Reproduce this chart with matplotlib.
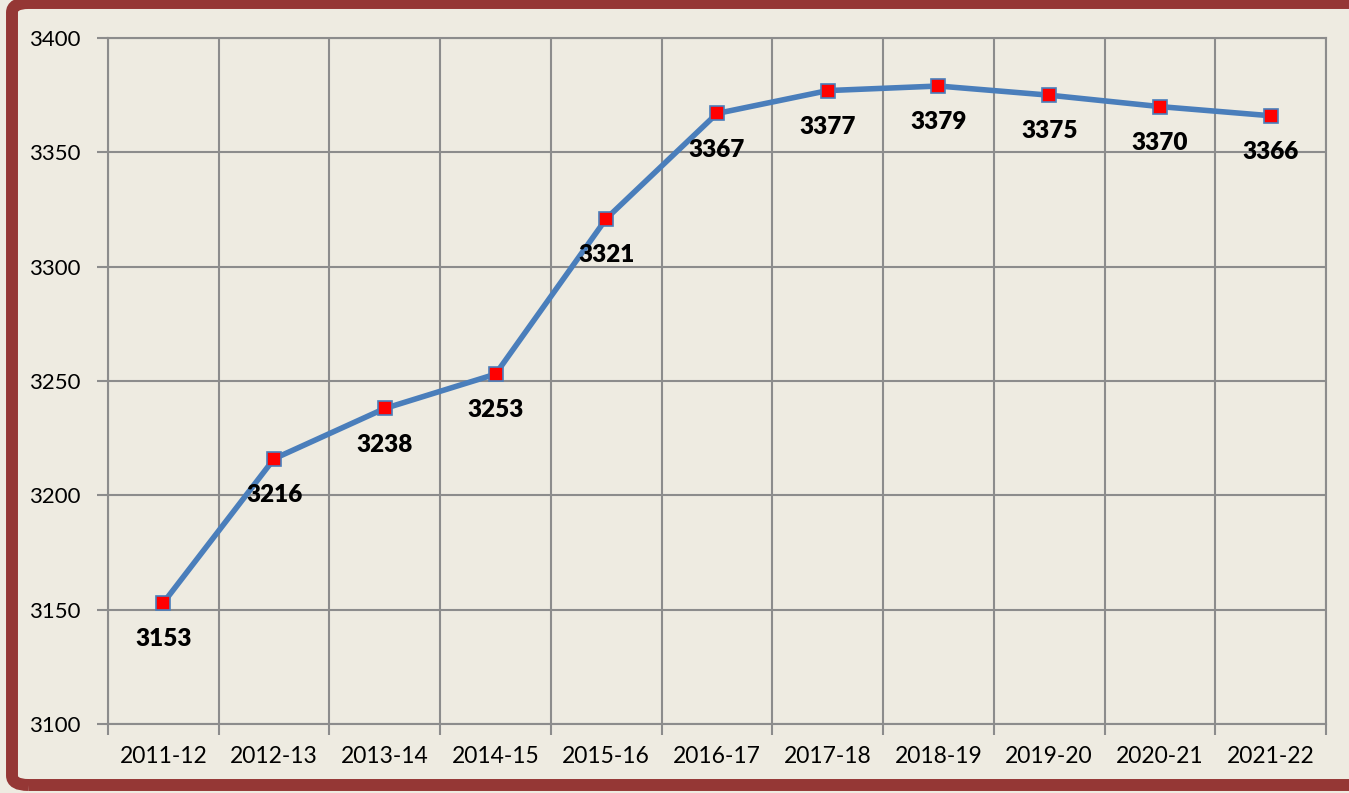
import matplotlib.pyplot as plt
from matplotlib.patches import FancyBboxPatch

years = ["2011-12", "2012-13", "2013-14", "2014-15", "2015-16", "2016-17",
         "2017-18", "2018-19", "2019-20", "2020-21", "2021-22"]
values = [3153, 3216, 3238, 3253, 3321, 3367, 3377, 3379, 3375, 3370, 3366]
y_ticks = [3100, 3150, 3200, 3250, 3300, 3350, 3400]

BG = "#EEEBE1"
BORDER = "#953735"
LINE = "#4A7EBB"
GRID = "#8C8C8C"

plt.rcParams["font.family"] = ["Lato", "DejaVu Sans"]

W, H = 1349, 793
fig = plt.figure(figsize=(W / 100, H / 100), dpi=100, facecolor=BG)
ax = fig.add_axes([108 / W, 1 - 724 / H, (1326 - 108) / W, (724 - 38) / H])
ax.set_facecolor(BG)

x = list(range(len(years)))
ax.plot(x, values, color=LINE, linewidth=4, marker="s", markersize=10,
        markerfacecolor="#FF0000", markeredgecolor=LINE, markeredgewidth=1.2,
        zorder=3, solid_joinstyle="round")

for xi, v in zip(x, values):
    ax.annotate(str(v), (xi, v), xytext=(0, -26), textcoords="offset points",
                ha="center", va="center", fontsize=17.5, fontweight="heavy",
                color="black", zorder=4)

ax.set_xlim(-0.5, len(years) - 0.5)
ax.set_ylim(3100, 3400)
ax.set_yticks(y_ticks)
ax.set_xticks(x)
ax.set_xticklabels(years)
ax.set_xticks([i - 0.5 for i in range(len(years) + 1)], minor=True)

ax.tick_params(axis="x", which="major", length=0, pad=16, labelsize=16.5)
ax.tick_params(axis="x", which="minor", length=8, width=1.5, color=GRID)
ax.tick_params(axis="y", length=8, width=1.5, color=GRID, pad=12, labelsize=16)

ax.grid(True, axis="y", color=GRID, linewidth=1.5)
ax.grid(True, axis="x", which="minor", color=GRID, linewidth=1.5)
ax.set_axisbelow(True)
for s in ax.spines.values():
    s.set_color(GRID)
    s.set_linewidth(1.5)

border = FancyBboxPatch((12 / W, 8 / H), (1420 - 12) / W, (790 - 8) / H,
                        boxstyle="round,pad=0,rounding_size=0.012",
                        transform=fig.transFigure, fill=False,
                        edgecolor=BORDER, linewidth=8.6, clip_on=False)
fig.patches.append(border)

fig.savefig("out.png", dpi=100, facecolor=BG)
